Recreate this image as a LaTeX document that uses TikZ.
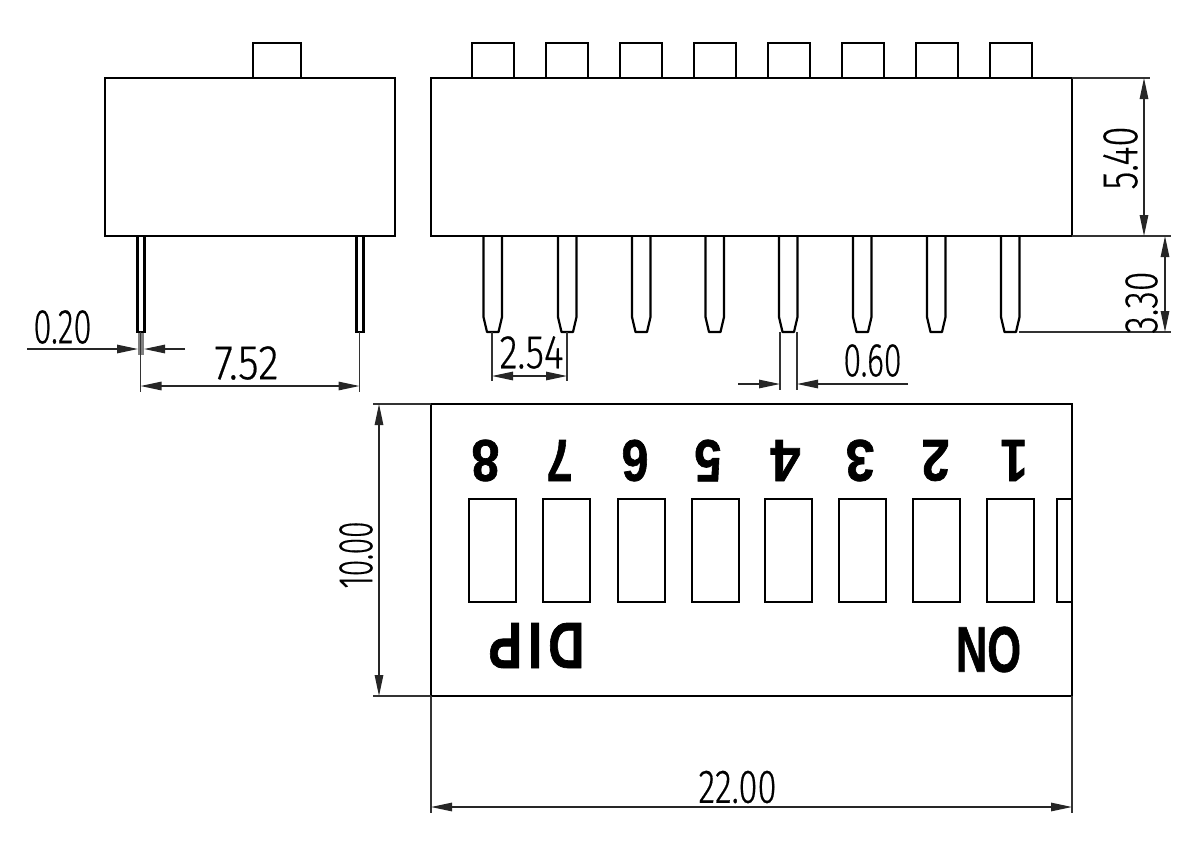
\documentclass[tikz,border=0pt]{standalone}
\usepackage{fontspec}
\usepackage{graphicx}
\setmainfont{Liberation Sans}[BoldFeatures={FakeBold=1.2}]
\newfontfamily\dimfont{Fira Sans Light}[FakeBold=0.5]
\usetikzlibrary{arrows.meta}
\newcommand{\fitdim}[3]{\resizebox{#1pt}{#2pt}{\dimfont #3}}
\newcommand{\fitbold}[3]{\resizebox{#1pt}{#2pt}{\bfseries #3}}
\tikzset{
  outline/.style={draw=black,line width=2.6pt,line join=miter},
  thinpart/.style={draw=black,line width=2.2pt},
  extline/.style={draw=black!80,line width=1.2pt},
  dimline/.style={draw=black!85,line width=1.3pt,{Triangle[length=21pt,width=8.5pt]}-{Triangle[length=21pt,width=8.5pt]}},
  leader/.style={draw=black!85,line width=1.3pt,-{Triangle[length=21pt,width=8.5pt]}},
  lab/.style={inner sep=0pt,outer sep=0pt,anchor=center}
}
\begin{document}
\begin{tikzpicture}[x=1pt,y=-1pt]
\useasboundingbox[fill=white] (0,0) rectangle (1200,847);
% left view
\draw[outline] (253,78) -- (253,43) -- (301,43) -- (301,78);
\draw[outline] (105,78) rectangle (395,236);
\draw[thinpart] (137.5,236) -- (137.5,332) -- (144.5,332) -- (144.5,236);
\draw[thinpart] (356.5,236) -- (356.5,332) -- (363.5,332) -- (363.5,236);
\fill[black!50] (138,333) rectangle (144,355);
\coordinate (l1) at (140.5,332);
\coordinate (l1b) at (140.5,392);
\coordinate (l2) at (359.5,332);
\coordinate (l2b) at (359.5,392);
\draw[extline] (l1) -- (l1b);
\draw[extline] (l2) -- (l2b);
\draw[dimline] (140.5,386) -- (359.5,386);
\coordinate (a1) at (27,349);
\coordinate (a2) at (138,349);
\coordinate (a3) at (185,349);
\coordinate (a4) at (144,349);
\draw[leader] (a1) -- (a2);
\draw[leader] (a3) -- (a4);
\node[lab] (t020) at (62.5,327) {\fitdim{58}{33}{0.20}};
\node[lab] (t752) at (246.5,363) {\fitdim{64}{33}{7.52}};
% front view
\foreach \x in {472,546,620,694,768,842,916,990}{
  \draw[outline] (\x,78) -- (\x,43) -- (\x+42,43) -- (\x+42,78);
}
\draw[outline] (431,78) rectangle (1072,236);
\foreach \x in {483.5,558,632,705.5,779,853,927,1001}{
  \draw[thinpart,line join=round] (\x,236) -- (\x,317) -- (\x+3.5,332) -- (\x+15,332) -- (\x+18.5,317) -- (\x+18.5,236);
}
% 2.54
\draw[extline] (492,332) -- (492,381);
\draw[extline] (567,332) -- (567,381);
\draw[dimline] (492,376) -- (567,376);
\node[lab] (t254) at (531.5,352.5) {\fitdim{64}{32}{2.54}};
% 0.60
\draw[extline] (780,332) -- (780,390);
\draw[extline] (797,332) -- (797,390);
\coordinate (b1) at (738,384);
\coordinate (b2) at (780,384);
\coordinate (b3) at (908,384);
\coordinate (b4) at (797,384);
\draw[leader] (b1) -- (b2);
\draw[leader] (b3) -- (b4);
\node[lab] (t060) at (872.5,360.5) {\fitdim{58}{32}{0.60}};
% 5.40 and 3.30
\draw[extline] (1072,78) -- (1150,78);
\draw[extline] (1072,236) -- (1171,236);
\draw[extline] (1019,332) -- (1171,332);
\draw[dimline] (1144,78) -- (1144,236);
\draw[dimline] (1165,236) -- (1165,332);
\node[lab,rotate=90] (t540) at (1120.5,158) {\fitdim{63}{34}{5.40}};
\node[lab,rotate=90] (t330) at (1141.5,302.5) {\fitdim{62}{32}{3.30}};
% top view
\draw[outline] (431,404) rectangle (1072,696);
\foreach \x in {469,543,618,692,765,839,913,987}{
  \draw[thinpart] (\x,499) rectangle (\x+47,602);
}
\draw[thinpart] (1072,499) -- (1057,499) -- (1057,602) -- (1072,602);
\foreach \n/\x/\w in {8/485.5/28,7/559.5/26,6/635/27,5/708/27,4/785.5/30,3/860/29,2/935.5/28,1/1014/27}{
  \node[lab,rotate=180] (n\n) at (\x,460.5) {\fitbold{\w}{41}{\n}};
}
\node[lab,rotate=180] (tdip) at (536.5,645.5) {\fitbold{96}{45}{D\kern0.12em I\kern0.12em P}};
\node[lab,rotate=180] (ton) at (988.5,649.5) {\fitbold{65}{45}{ON}};
% 10.00
\draw[extline] (373,404) -- (431,404);
\draw[extline] (373,696) -- (431,696);
\draw[dimline] (379,404) -- (379,696);
\node[lab,rotate=90] (t1000) at (356,555) {\fitdim{67}{33}{10.00}};
% 22.00
\draw[extline] (431,696) -- (431,813);
\draw[extline] (1072,696) -- (1072,813);
\draw[dimline] (431,807) -- (1072,807);
\node[lab] (t2200) at (737.5,787) {\fitdim{78}{32}{22.00}};
\end{tikzpicture}
\end{document}
